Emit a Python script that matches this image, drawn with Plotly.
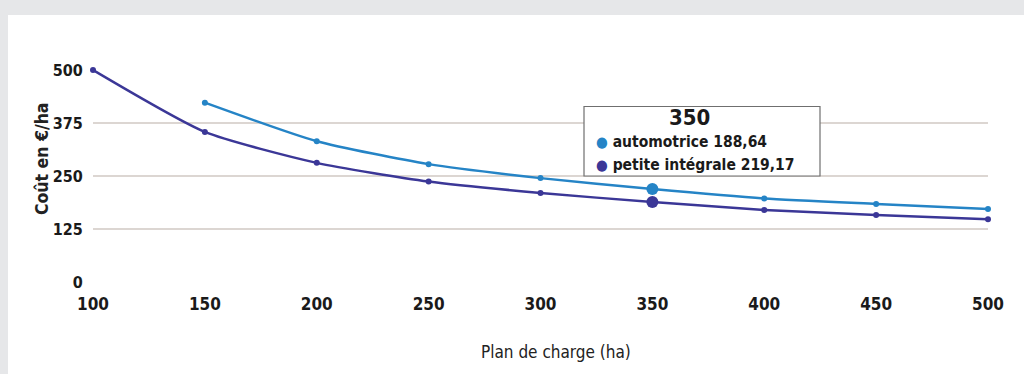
import plotly.graph_objects as go

# Cost per hectare by planned area
surface_ha = [100, 150, 200, 250, 300, 350, 400, 450, 500]
automotrice = [500, 354, 281, 237, 210, 188.64, 170, 158, 148]
petite_integrale = [None, 423, 332, 278, 245, 219.17, 197, 184, 172]

y_ticks = [0, 125, 250, 375, 500]
x_ticks = [100, 150, 200, 250, 300, 350, 400, 450, 500]

highlight_x = 350
hl_idx = surface_ha.index(highlight_x)

dark = "#3b3797"
light = "#2584c6"
grid = "#dcd6d2"
cond = "DejaVu Sans Condensed, Liberation Sans Narrow, Arial Narrow, sans-serif"

def sizes(n):
    return [12 if i == hl_idx else 6 for i in range(n)]

fig = go.Figure()
fig.add_trace(go.Scatter(
    x=surface_ha, y=petite_integrale, mode="lines+markers", name="petite intégrale",
    line=dict(color=light, width=2.5, shape="spline", smoothing=0.6),
    marker=dict(color=light, size=sizes(len(surface_ha)), opacity=1,
                line=dict(color=light, width=0)),
    cliponaxis=False, connectgaps=False,
))
fig.add_trace(go.Scatter(
    x=surface_ha, y=automotrice, mode="lines+markers", name="automotrice",
    line=dict(color=dark, width=2.5, shape="spline", smoothing=0.6),
    marker=dict(color=dark, size=sizes(len(surface_ha)), opacity=1,
                line=dict(color=dark, width=0)),
    cliponaxis=False,
))

L, R, T, B = 93, 36, 70, 92
W, H = 1024, 374
pw, ph = W - L - R, H - T - B

def px_x(p):
    return (p - L) / pw

def px_y(p):
    return (H - B - p) / ph

shapes = [
    # white card on grey page
    dict(type="rect", xref="paper", yref="paper", layer="below",
         x0=px_x(8), x1=px_x(1030), y0=px_y(380), y1=px_y(15),
         fillcolor="white", line=dict(width=0)),
    # tooltip frame
    dict(type="rect", xref="paper", yref="paper", layer="above",
         x0=px_x(584), x1=px_x(820), y0=px_y(176), y1=px_y(106.5),
         fillcolor="white", line=dict(color="#6f6f6f", width=1.2)),
]

def fmt(v):
    return f"{v:.2f}".replace(".", ",")

annotations = [
    dict(text=str(highlight_x), x=px_x(689), y=px_y(118), xref="paper", yref="paper",
         showarrow=False, xanchor="center", yanchor="middle",
         font=dict(family=cond, size=22, color="#1a1a1a", weight="bold")),
    dict(text=f'<span style="color:{light};font-size:15px">●</span> automotrice {fmt(automotrice[hl_idx])}',
         x=px_x(594), y=px_y(142), xref="paper", yref="paper", showarrow=False,
         xanchor="left", yanchor="middle",
         font=dict(family=cond, size=15.5, color="#1a1a1a", weight="bold")),
    dict(text=f'<span style="color:{dark};font-size:15px">●</span> petite intégrale {fmt(petite_integrale[hl_idx])}',
         x=px_x(594), y=px_y(165), xref="paper", yref="paper", showarrow=False,
         xanchor="left", yanchor="middle",
         font=dict(family=cond, size=15.5, color="#1a1a1a", weight="bold")),
    dict(text="Plan de charge (ha)", x=px_x(556), y=px_y(352), xref="paper", yref="paper",
         showarrow=False, xanchor="center", yanchor="middle",
         font=dict(family=cond, size=17, color="#222222")),
    dict(text="Coût en €/ha", x=px_x(42), y=px_y(159), xref="paper", yref="paper",
         showarrow=False, xanchor="center", yanchor="middle", textangle=-90,
         font=dict(family=cond, size=17.5, color="#222222", weight=600)),
]

fig.update_layout(
    width=W, height=H,
    margin=dict(l=L, r=R, t=T, b=B),
    paper_bgcolor="#e6e7e9",
    plot_bgcolor="rgba(0,0,0,0)",
    showlegend=False,
    shapes=shapes,
    annotations=annotations,
    xaxis=dict(range=[100, 500], tickvals=x_ticks, showgrid=False, zeroline=False,
               showline=False, ticks="outside", ticklen=7, tickcolor="rgba(0,0,0,0)",
               tickfont=dict(family=cond, size=17, color="#1a1a1a", weight="bold")),
    yaxis=dict(range=[0, 500], tickvals=y_ticks, showgrid=True, gridcolor=grid,
               gridwidth=1.5, zeroline=False, showline=False, ticks="outside",
               ticklen=6, tickcolor="rgba(0,0,0,0)",
               tickfont=dict(family=cond, size=16, color="#1a1a1a", weight="bold")),
)

fig.write_html("out.html")
